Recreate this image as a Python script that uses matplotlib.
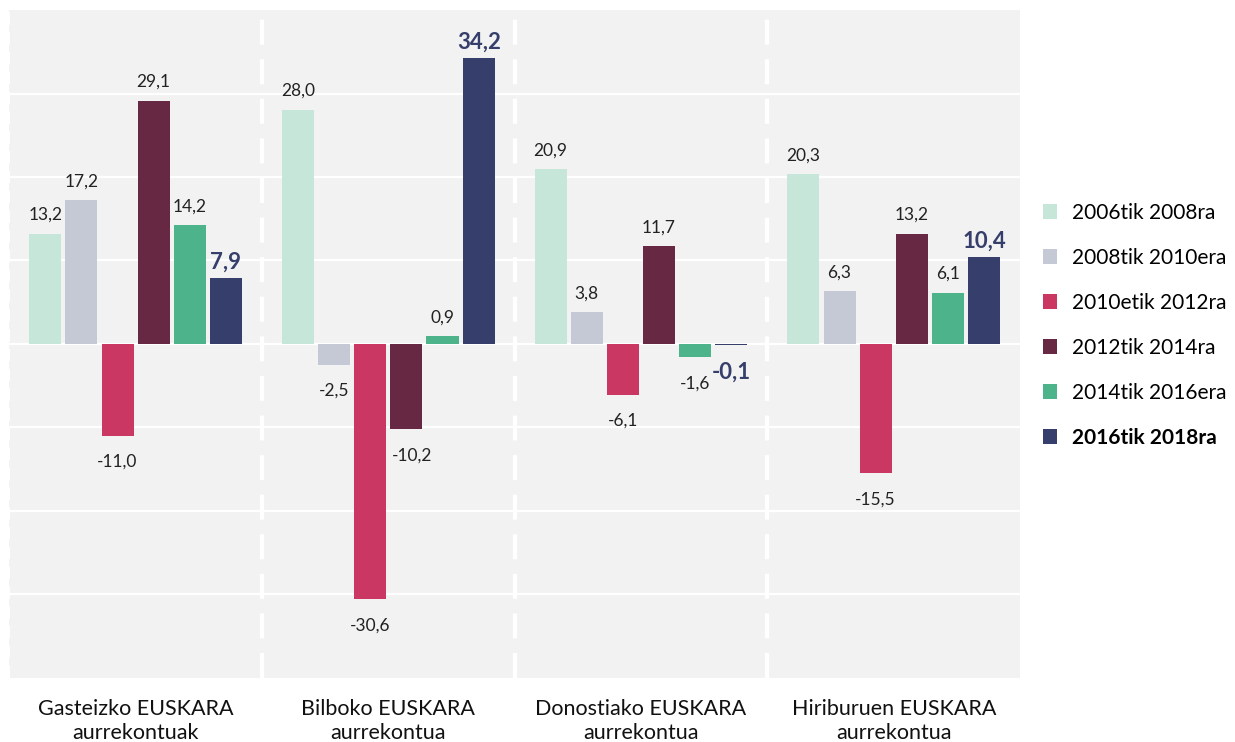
"""
EUSKARA aurrekontuen aldaketa (%), hiriburuka
"""
import numpy as np
import matplotlib.pyplot as plt

# --- Data ---
groups = ['Gasteizko EUSKARA\naurrekontuak', 'Bilboko EUSKARA\naurrekontua',
          'Donostiako EUSKARA\naurrekontua', 'Hiriburuen EUSKARA\naurrekontua']
series = ['2006tik 2008ra', '2008tik 2010era', '2010etik 2012ra',
          '2012tik 2014ra', '2014tik 2016era', '2016tik 2018ra']
v_0608 = [13.2, 28.0, 20.9, 20.3]
v_0810 = [17.2, -2.5, 3.8, 6.3]
v_1012 = [-11.0, -30.6, -6.1, -15.5]
v_1214 = [29.1, -10.2, 11.7, 13.2]
v_1416 = [14.2, 0.9, -1.6, 6.1]
v_1618 = [7.9, 34.2, -0.1, 10.4]
values = [v_0608, v_0810, v_1012, v_1214, v_1416, v_1618]

colors = ['#c5e6d9', '#c5c9d5', '#c93762', '#662843', '#4db38b', '#363f6b']

plt.rcParams['font.family'] = ['Lato', 'DejaVu Sans']

# --- Plot ---
fig = plt.figure(figsize=(12.35, 7.42), dpi=100)
ax = fig.add_axes([0.0075, 0.0863, 0.8185, 0.9002])
ax.set_facecolor('#f2f2f2')

x = np.arange(len(groups))
step = 0.143
width = 0.127
for i, (name, vals, c) in enumerate(zip(series, values, colors)):
    pos = x + (i - 2.5) * step
    ax.bar(pos, vals, width, color=c, label=name, zorder=3)
    last = i == len(series) - 1
    for p, v in zip(pos, vals):
        txt = f'{v:.1f}'.replace('.', ',')
        if last:
            off = 4 if v >= 0 else -12
            ax.annotate(txt, (p, v), xytext=(0, off), textcoords='offset points',
                        ha='center', va='bottom' if v >= 0 else 'top',
                        fontsize=16, fontweight='bold', color='#363f6b', zorder=4)
        else:
            off = 8 if v >= 0 else -13
            dx = 4 if (i == 3 and v < 0) else 0
            ax.annotate(txt, (p, v), xytext=(dx, off), textcoords='offset points',
                        ha='center', va='bottom' if v >= 0 else 'top',
                        fontsize=12.5, color='#222222', zorder=4)

ax.set_ylim(-40, 40)
ax.set_xlim(-0.5, len(groups) - 0.5)
ax.set_yticks(np.arange(-30, 31, 10))
ax.yaxis.grid(True, color='white', lw=1.6, zorder=1)
ax.tick_params(left=False, bottom=False, labelleft=False)
ax.set_xticks(x)
ax.set_xticklabels(groups, fontsize=15.5, color='#111111', linespacing=1.2)
ax.tick_params(axis='x', pad=12)

# Dashed separators between groups
for xs in np.arange(0.5, len(groups) - 0.5, 1):
    ax.axvline(xs, color='white', lw=3, ls=(0, (6, 3.5)), zorder=2)
ax.axvline(-0.5, color='white', lw=1.5, ls=(0, (6, 3.5)), zorder=2)

for s in ax.spines.values():
    s.set_visible(False)

leg = ax.legend(loc='center left', bbox_to_anchor=(1.004, 0.528), frameon=False,
                fontsize=15, handlelength=0.7, handleheight=0.7, handletextpad=0.7,
                labelspacing=1.2)
leg.get_texts()[-1].set_fontweight('bold')

plt.savefig('out.png', dpi=100)
plt.close()
print("Done: out.png")
